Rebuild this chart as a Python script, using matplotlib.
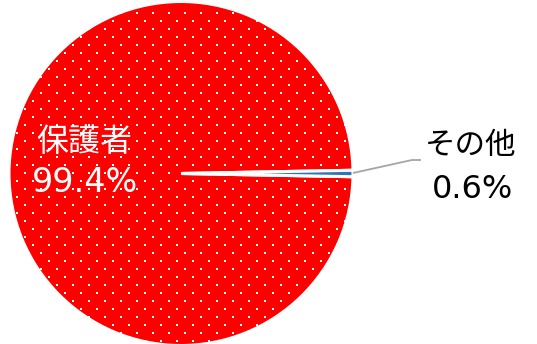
import numpy as np
import matplotlib.pyplot as plt

plt.rcParams['font.family'] = ['Noto Sans CJK JP', 'DejaVu Sans']

# 回答者の内訳
labels = ['保護者', 'その他']
values = [99.4, 0.6]
colors = ['#FF0000', '#2E75B6']

W, H = 537, 344
fig = plt.figure(figsize=(W / 100, H / 100), dpi=100)
ax = fig.add_axes([0, 0, 1, 1])

cx, cy, r = 181, 344 - 173.5, 172
start = values[1] / 100 * 360 / 2  # 小さい扇形を右水平に合わせる
wedges, _ = ax.pie(values, colors=colors, startangle=start, counterclock=True,
                   center=(cx, cy), radius=r, frame=True,
                   wedgeprops=dict(edgecolor='white', linewidth=2.2))
ax.set_xlim(0, W)
ax.set_ylim(0, H)
ax.set_aspect('equal')
ax.axis('off')

# 白いドット模様（塗りつぶしのテクスチャ）
pts = []
for j in range(45):
    yy = 12.7 + 8 * j
    off = 8 * (j % 2)
    for i in range(35):
        pts.append((9 + 16 * i + off, H - yy))
pts = np.array(pts)
dots = ax.scatter(pts[:, 0], pts[:, 1], s=2.3, marker='s', c='white',
                  linewidths=0, zorder=3)
dots.set_clip_path(wedges[0])

# ラベル
num_font = ['DejaVu Sans']
ax.text(84, H - 142, labels[0], color='white', fontsize=23,
        ha='center', va='center', zorder=4)
ax.text(85, H - 183, f'{values[0]:.1f}%', color='white', fontsize=24,
        family=num_font, ha='center', va='center', zorder=4)
ax.text(471, H - 146, labels[1], color='black', fontsize=22,
        ha='center', va='center', zorder=4)
ax.text(472, H - 189, f'{values[1]:.1f}%', color='black', fontsize=23,
        family=num_font, ha='center', va='center', zorder=4)

# 引き出し線
ax.plot([353, 412, 421], [H - 173, H - 160, H - 160], color='#A5A5A5',
        linewidth=1.3, zorder=2, solid_capstyle='butt')

fig.savefig('out.png', dpi=100)
